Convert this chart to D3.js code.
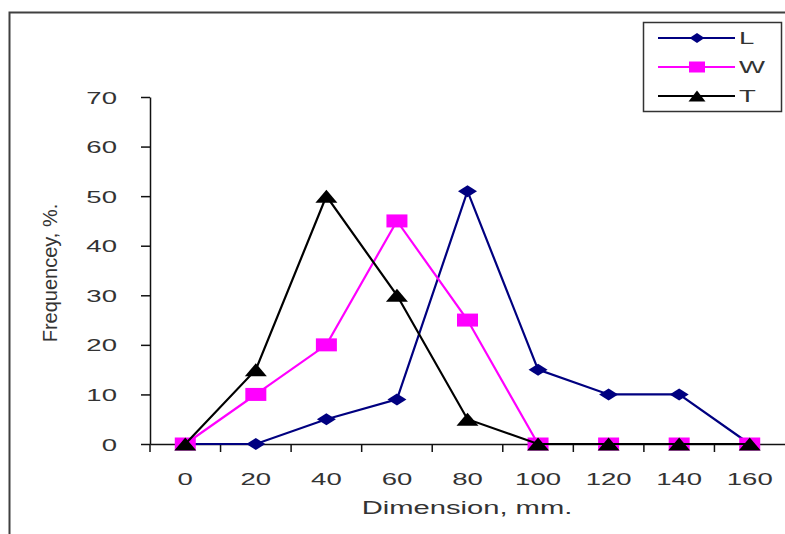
<!DOCTYPE html>
<html>
<head>
<meta charset="utf-8">
<script src="https://cdn.jsdelivr.net/npm/d3@7"></script>
<style>
  html, body { margin: 0; padding: 0; background: #fff; }
  svg { display: block; }
  text { font-family: "Liberation Sans", Arial, sans-serif; fill: #333; }
</style>
</head>
<body>
<svg id="chart" width="785" height="534"></svg>
<script>
// ---- data ----
const categories = ["0", "20", "40", "60", "80", "100", "120", "140", "160"];
const seriesL = [0, 0, 5, 9, 51, 15, 10, 10, 0];
const seriesW = [0, 10, 20, 45, 25, 0, 0, 0, 0];
const seriesT = [0, 15, 50, 30, 5, 0, 0, 0, 0];
const seriesNames = ["L", "W", "T"];
const yTicks = [0, 10, 20, 30, 40, 50, 60, 70];
const xTitle = "Dimension, mm.";
const yTitle = "Frequencey, %.";

const series = [
  { name: seriesNames[0], values: seriesL, color: "#000080", marker: "diamond" },
  { name: seriesNames[1], values: seriesW, color: "#FF00FF", marker: "square" },
  { name: seriesNames[2], values: seriesT, color: "#000000", marker: "triangle" }
];

const svg = d3.select("#chart");
const SX = 1.62;
const TXT = "#3a3a3a";

// frame
svg.append("rect")
  .attr("x", 9.5).attr("y", 12.5).attr("width", 900).attr("height", 700)
  .attr("fill", "none").attr("stroke", "#404040").attr("stroke-width", 2);

const x = d3.scaleBand().domain(categories).range([150, 785]);
const y = d3.scaleLinear().domain([0, 70]).range([444, 97]);

// y axis
const gy = svg.append("g").attr("transform", "translate(150,0)")
  .call(d3.axisLeft(y).tickValues(yTicks).tickSize(9).tickSizeOuter(0));
gy.select(".domain").attr("stroke", "#111").attr("stroke-width", 1.5);
gy.selectAll(".tick line").attr("stroke", "#111").attr("stroke-width", 1.5);
gy.selectAll(".tick text")
  .attr("x", null).attr("dy", "0.36em")
  .attr("transform", `translate(-33,0) scale(${SX},1)`)
  .attr("font-size", 17).attr("text-anchor", "end")
  .style("font-family", '"Liberation Sans", Arial, sans-serif').attr("fill", TXT);

// x axis
const gx = svg.append("g").attr("transform", "translate(0,444)")
  .call(d3.axisBottom(x).tickSize(0).tickSizeOuter(0));
gx.select(".domain").attr("stroke", "#111").attr("stroke-width", 1.5);
gx.selectAll(".tick text")
  .attr("y", null).attr("dy", null)
  .attr("transform", `translate(0,41) scale(${SX},1)`)
  .attr("font-size", 17).attr("text-anchor", "middle")
  .style("font-family", '"Liberation Sans", Arial, sans-serif').attr("fill", TXT);
// boundary tick marks
gx.selectAll(".btick").data(categories).enter().append("line")
  .attr("class", "btick")
  .attr("x1", d => x(d)).attr("x2", d => x(d))
  .attr("y1", 0).attr("y2", 8)
  .attr("stroke", "#111").attr("stroke-width", 1.5);

// titles
svg.append("text")
  .attr("transform", `translate(467,514) scale(${SX},1)`)
  .attr("text-anchor", "middle").attr("font-size", 18).attr("fill", TXT)
  .text(xTitle);
svg.append("text")
  .attr("transform", "translate(57,273) rotate(-90)")
  .attr("text-anchor", "middle").attr("font-size", 20).attr("fill", TXT)
  .text(yTitle);

// markers
function markerPath(type, w, h) {
  const hw = w / 2, hh = h / 2;
  if (type === "diamond") return `M${-hw},0L0,${-hh}L${hw},0L0,${hh}Z`;
  if (type === "square") return `M${-hw},${-hh}H${hw}V${hh}H${-hw}Z`;
  return `M0,${-hh}L${hw},${hh}L${-hw},${hh}Z`;
}
const msize = { diamond: [19, 12], square: [21, 13], triangle: [22, 13] };

const line = d3.line()
  .x((d, i) => x(categories[i]) + x.bandwidth() / 2)
  .y(d => y(d));

series.forEach(s => {
  const g = svg.append("g");
  g.append("path").datum(s.values)
    .attr("d", line).attr("fill", "none")
    .attr("stroke", s.color).attr("stroke-width", 2.2);
  const [mw, mh] = msize[s.marker];
  g.selectAll("path.m").data(s.values).enter().append("path")
    .attr("class", "m")
    .attr("transform", (d, i) => `translate(${x(categories[i]) + x.bandwidth() / 2},${y(d)})`)
    .attr("d", markerPath(s.marker, mw, mh))
    .attr("fill", s.color);
});

// legend
const lg = svg.append("g");
lg.append("rect").attr("x", 643.5).attr("y", 22.5).attr("width", 138).attr("height", 89)
  .attr("fill", "#fff").attr("stroke", "#333").attr("stroke-width", 1.5);
const lsize = { diamond: [15, 10], square: [16, 11], triangle: [17, 11] };
series.forEach((s, i) => {
  const ly = 38 + i * 29;
  lg.append("line").attr("x1", 658).attr("x2", 735).attr("y1", ly).attr("y2", ly)
    .attr("stroke", s.color).attr("stroke-width", 2.2);
  const [mw, mh] = lsize[s.marker];
  lg.append("path").attr("transform", `translate(697,${ly})`)
    .attr("d", markerPath(s.marker, mw, mh)).attr("fill", s.color);
  lg.append("text").attr("transform", `translate(739,${ly}) scale(${SX},1)`)
    .attr("dy", "0.36em").attr("font-size", 17).attr("fill", TXT).text(s.name);
});
</script>
</body>
</html>
